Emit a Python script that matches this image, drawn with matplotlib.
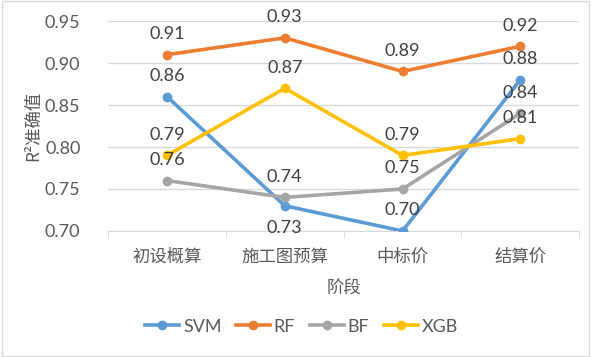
import matplotlib
matplotlib.use("Agg")
import matplotlib.pyplot as plt
from matplotlib.lines import Line2D

plt.rcParams['font.family'] = ['Lato', 'Noto Sans CJK SC', 'DejaVu Sans']

stages = ["初设概算", "施工图预算", "中标价", "结算价"]
svm = [0.86, 0.73, 0.70, 0.88]
rf = [0.91, 0.93, 0.89, 0.92]
bf = [0.76, 0.74, 0.75, 0.84]
xgb = [0.79, 0.87, 0.79, 0.81]

series = [("SVM", svm, "#5B9BD5"), ("RF", rf, "#ED7D31"),
          ("BF", bf, "#A5A5A5"), ("XGB", xgb, "#FFC000")]

# labels that sit below their point in the original
below = {("SVM", 1)}

text_col = "#595959"
cjk = ['Noto Sans CJK SC', 'DejaVu Sans']

fig = plt.figure(figsize=(5.91, 3.57), dpi=100)
ax = fig.add_axes([0.183, 0.353, 0.797, 0.588])

x = list(range(len(stages)))
for name, vals, col in series:
    ax.plot(x, vals, color=col, lw=2.6, marker="o", ms=6, label=name,
            solid_capstyle="round", zorder=3)
    for xi, v in zip(x, vals):
        if (name, xi) in below:
            off, va = (0, -10), "top"
        else:
            off, va = (0, 9), "bottom"
        ax.annotate(f"{v:.2f}", (xi, v), xytext=off, textcoords="offset points",
                    ha="center", va=va, fontsize=13, color="#404040", zorder=4)

ax.set_xlim(-0.5, 3.5)
ax.set_ylim(0.70, 0.95)
ax.set_yticks([0.70, 0.75, 0.80, 0.85, 0.90, 0.95])
ax.set_yticklabels([f"{t:.2f}" for t in ax.get_yticks()], fontsize=13, color=text_col)
ax.set_xticks(x)
ax.set_xticklabels(stages, fontsize=12.5, color=text_col, fontfamily=cjk)
ax.set_xticks([-0.5, 0.5, 1.5, 2.5, 3.5], minor=True)
ax.tick_params(axis="x", which="major", length=0, pad=12)
ax.tick_params(axis="x", which="minor", length=5, color="#D9D9D9", direction="out")
ax.tick_params(axis="y", length=0, pad=20)
ax.grid(axis="y", color="#D9D9D9", lw=1)
ax.set_axisbelow(True)
for s in ["top", "right", "left"]:
    ax.spines[s].set_visible(False)
ax.spines["bottom"].set_color("#D9D9D9")

ax.set_ylabel("R²准确值", fontsize=12.5, color=text_col, labelpad=2, fontfamily=cjk)
ax.set_xlabel("阶段", fontsize=12.5, color=text_col, labelpad=10, fontfamily=cjk)

handles = [Line2D([0], [0], color=c, lw=2.6, marker="o", ms=6) for _, _, c in series]
fig.legend(handles, [n for n, _, _ in series], loc="center", bbox_to_anchor=(0.51, 0.085),
           ncol=4, frameon=False, fontsize=13, handlelength=1.9, columnspacing=0.8,
           handletextpad=0.2, labelcolor=text_col)

fig.patches.append(plt.Rectangle((0.003, 0.003), 0.994, 0.994, transform=fig.transFigure,
                                 fill=False, edgecolor="#D9D9D9", lw=1))

fig.savefig("out.png", dpi=100)
